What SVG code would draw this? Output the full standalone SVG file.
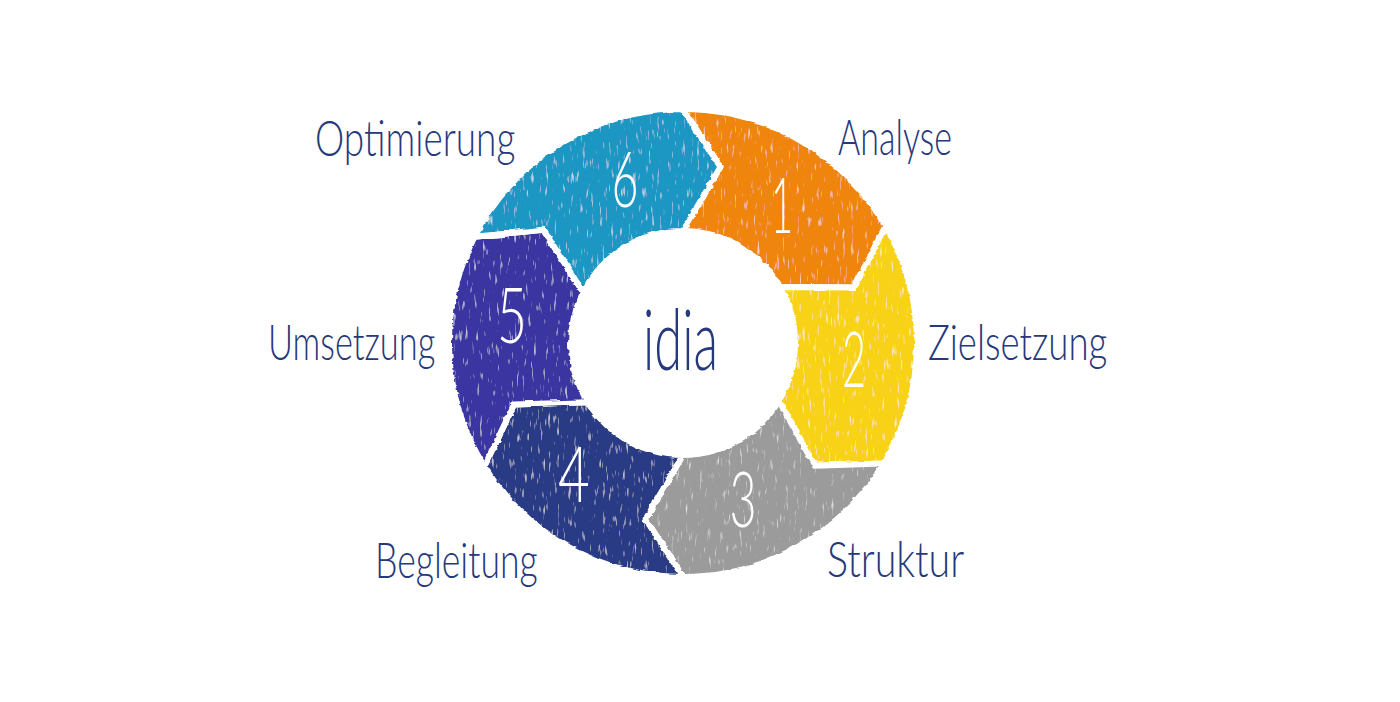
<svg xmlns="http://www.w3.org/2000/svg" width="1400" height="702" viewBox="0 0 1400 702">
  <defs>
    <filter id="crayon" x="-5%" y="-5%" width="110%" height="110%">
      <feTurbulence type="fractalNoise" baseFrequency="0.05 0.25" numOctaves="2" seed="3" result="n"/>
      <feDisplacementMap in="SourceGraphic" in2="n" scale="4" xChannelSelector="R" yChannelSelector="G" result="d"/>
      <feTurbulence type="fractalNoise" baseFrequency="0.35 0.07" numOctaves="2" seed="7" result="s"/>
      <feColorMatrix in="s" type="matrix" values="0 0 0 0 1  0 0 0 0 1  0 0 0 0 1  0 0 0 2.5 -1.62" result="w"/>
      <feComposite in="w" in2="d" operator="in" result="wi"/>
      <feMerge><feMergeNode in="d"/><feMergeNode in="wi"/></feMerge>
    </filter>
  </defs>
  <style>
    .seg { stroke: #ffffff; stroke-width: 6; stroke-linejoin: round; }
    .num { font-family: "Lato", "Open Sans", "Liberation Sans", sans-serif; font-weight: 300; font-size: 76px; fill: #ffffff; text-anchor: middle; }
    .lbl { font-family: "Lato", "Open Sans", "Liberation Sans", sans-serif; font-weight: 300; font-size: 50px; fill: #26397a; }
    .mid { font-size: 84px; }
  </style>
  <rect width="1400" height="702" fill="#ffffff"/>
  <g id="ring" filter="url(#crayon)">
    <g id="step1">
      <path class="seg" fill="#ef8511" d="M 683 109 A 234 234 0 0 1 885.6 226 L 854.2 287.4 L 780 287 A 112 112 0 0 0 683 231 L 720.4 166.9 Z"/>
    </g>
    <g id="step2">
      <path class="seg" fill="#f8d217" d="M 885.6 226 A 234 234 0 0 1 883.6 463.5 L 814.7 465.8 L 779 400.7 A 112 112 0 0 0 780 287 L 854.2 287.4 Z"/>
    </g>
    <g id="step3">
      <path class="seg" fill="#9b9b9b" d="M 883.6 463.5 A 234 234 0 0 1 683 577 L 645.6 519.1 L 683 455 A 112 112 0 0 0 779 400.7 L 814.7 465.8 Z"/>
    </g>
    <g id="step4">
      <path class="seg" fill="#2a3b86" d="M 683 577 A 234 234 0 0 1 484.6 467 L 513.9 404.6 L 588 402.3 A 112 112 0 0 0 683 455 L 645.6 519.1 Z"/>
    </g>
    <g id="step5">
      <path class="seg" fill="#3a36a2" d="M 484.6 467 A 234 234 0 0 1 474.5 236.8 L 543.1 229.7 L 583.2 292.2 A 112 112 0 0 0 588 402.3 L 513.9 404.6 Z"/>
    </g>
    <g id="step6">
      <path class="seg" fill="#1f97c3" d="M 474.5 236.8 A 234 234 0 0 1 683 109 L 720.4 166.9 L 683 231 A 112 112 0 0 0 583.2 292.2 L 543.1 229.7 Z"/>
    </g>
  </g>
  <g id="numbers">
    <text class="num" transform="translate(782 233) scale(0.6 1)" textLength="37" lengthAdjust="spacingAndGlyphs">1</text>
    <text class="num" transform="translate(854 387) scale(0.6 1)" textLength="40" lengthAdjust="spacingAndGlyphs">2</text>
    <text class="num" transform="translate(743 527) scale(0.6 1)" textLength="45" lengthAdjust="spacingAndGlyphs">3</text>
    <text class="num" transform="translate(574 502) scale(0.6 1)" textLength="53" lengthAdjust="spacingAndGlyphs">4</text>
    <text class="num" transform="translate(512 343) scale(0.6 1)" textLength="50" lengthAdjust="spacingAndGlyphs">5</text>
    <text class="num" transform="translate(625 207) scale(0.6 1)" textLength="45" lengthAdjust="spacingAndGlyphs">6</text>
  </g>
  <g id="center">
    <text class="lbl mid" transform="translate(643 370) scale(0.6 1)" textLength="125" lengthAdjust="spacingAndGlyphs">idia</text>
  </g>
  <g id="labels">
    <text class="lbl" transform="translate(838 155) scale(0.75 1)" textLength="152" lengthAdjust="spacingAndGlyphs">Analyse</text>
    <text class="lbl" transform="translate(928 360) scale(0.75 1)" textLength="239" lengthAdjust="spacingAndGlyphs">Zielsetzung</text>
    <text class="lbl" transform="translate(827 577) scale(0.75 1)" textLength="183" lengthAdjust="spacingAndGlyphs">Struktur</text>
    <text class="lbl" transform="translate(375 578) scale(0.75 1)" textLength="217" lengthAdjust="spacingAndGlyphs">Begleitung</text>
    <text class="lbl" transform="translate(268 360) scale(0.75 1)" textLength="223" lengthAdjust="spacingAndGlyphs">Umsetzung</text>
    <text class="lbl" transform="translate(315 156) scale(0.75 1)" textLength="267" lengthAdjust="spacingAndGlyphs">Optimierung</text>
  </g>
</svg>
